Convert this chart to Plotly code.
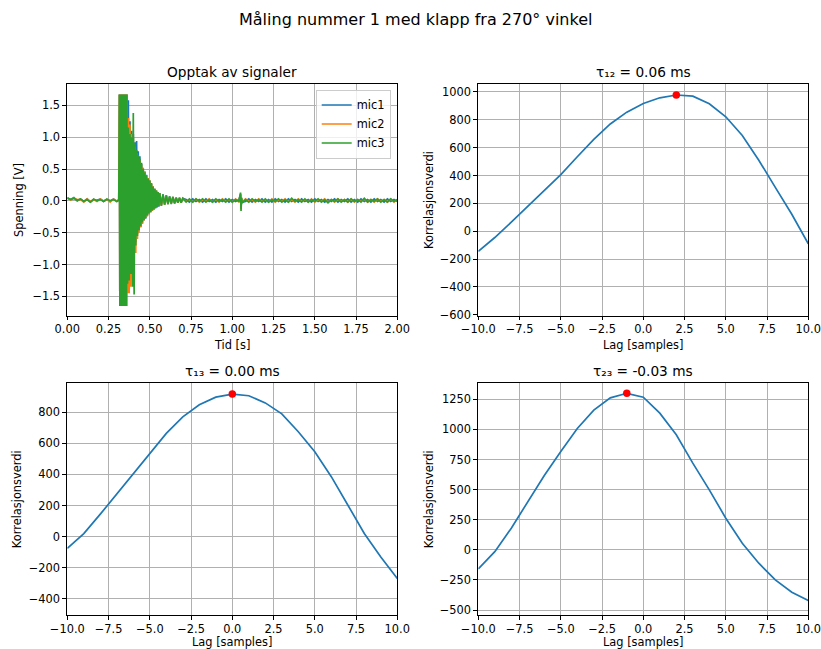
import plotly.graph_objects as go

# ---------------- Signal recording (time [s], voltage [V]) ----------------
t_pre = [0.00, 0.02, 0.04, 0.06, 0.08, 0.10, 0.12, 0.14, 0.16, 0.18, 0.20, 0.22,
         0.24, 0.26, 0.28, 0.30, 0.312]
t_burst = [0.316, 0.3185, 0.321, 0.3235, 0.326, 0.3285, 0.331, 0.3335, 0.336, 0.3385,
           0.341, 0.3435, 0.346, 0.3485, 0.351, 0.3535, 0.356, 0.3585, 0.361]
t_decay = [0.365, 0.370, 0.375, 0.380, 0.385, 0.390, 0.395, 0.400, 0.405, 0.410,
           0.415, 0.420, 0.425, 0.430, 0.435, 0.440, 0.445, 0.450, 0.455, 0.460,
           0.465, 0.470, 0.475, 0.480, 0.485, 0.490, 0.495, 0.500, 0.505, 0.510,
           0.515, 0.520, 0.525, 0.530, 0.535, 0.540, 0.545, 0.550, 0.555, 0.560]
t_tail = [0.57, 0.58, 0.59, 0.60, 0.61, 0.62, 0.63, 0.64, 0.65, 0.66, 0.67, 0.68, 0.69, 0.70]
t_post = [0.72, 0.74, 0.76, 0.78, 0.80, 0.82, 0.84, 0.86, 0.88, 0.90, 0.92, 0.94, 0.96,
          0.98, 1.00, 1.02, 1.04,
          1.050, 1.053, 1.056, 1.060,
          1.08, 1.10, 1.12, 1.14, 1.16, 1.18, 1.20, 1.22, 1.24, 1.26,
          1.28, 1.30, 1.32, 1.34, 1.36, 1.38, 1.40, 1.42, 1.44, 1.46,
          1.48, 1.50, 1.52, 1.54, 1.56, 1.58, 1.60, 1.62, 1.64, 1.66,
          1.68, 1.70, 1.72, 1.74, 1.76, 1.78, 1.80, 1.82, 1.84, 1.86,
          1.88, 1.90, 1.92, 1.94, 1.96, 1.98, 2.00]

mic1_pre = [0.04, 0.02, 0.05, 0.00, 0.03, -0.01, 0.03, -0.02, 0.02, 0.01, 0.03, -0.01,
            0.02, 0.00, 0.03, -0.01, 0.02]
mic1_burst = [1.67, -1.65, 1.67, -1.65, 1.67, -1.65, 1.67, -1.65, 1.67, -1.65,
              1.67, -1.65, 1.67, -1.65, 1.67, -1.65, 1.67, -1.65, 1.67]
mic1_decay = [-1.20, 1.58, -1.10, 1.25, -1.05, 1.10, -1.00, 1.05, -0.95, 0.92,
              -0.65, 0.94, -0.52, 0.78, -0.45, 0.70, -0.41, 0.60, -0.36, 0.52,
              -0.31, 0.46, -0.28, 0.41, -0.24, 0.36, -0.21, 0.32, -0.18, 0.28,
              -0.16, 0.23, -0.14, 0.19, -0.12, 0.16, -0.10, 0.14, -0.09, 0.12]
mic1_tail = [-0.08, 0.10, -0.06, 0.09, -0.05, 0.07, -0.05, 0.06, -0.04, 0.05, -0.03, 0.05, -0.03, 0.04]
mic1_post = [0.02, -0.02, 0.03, -0.01, 0.02, -0.02, 0.03, -0.01, 0.02, -0.02, 0.02, -0.01,
             0.03, -0.02, 0.02, -0.01, 0.02,
             0.10, -0.12, 0.04, -0.02,
             -0.01, 0.03, -0.02, 0.02, -0.01, 0.03, -0.02, 0.02, -0.02, 0.03,
             -0.01, 0.02, -0.02, 0.03, -0.01, 0.02, -0.02, 0.03, -0.01, 0.02,
             -0.02, 0.03, -0.01, 0.02, -0.02, 0.02, -0.01, 0.03, -0.02, 0.02,
             -0.01, 0.03, -0.02, 0.02, -0.02, 0.03, -0.01, 0.02, -0.02, 0.03,
             -0.01, 0.02, -0.02, 0.03, -0.01, 0.02, -0.01]

mic2_pre = [0.05, 0.01, 0.04, 0.02, 0.02, -0.02, 0.03, -0.01, 0.02, -0.01, 0.03, 0.00,
            0.02, -0.02, 0.03, 0.00, 0.02]
mic2_burst = [1.67, -1.65, 1.67, -1.65, 1.67, -1.65, 1.67, -1.65, 1.67, -1.65,
              1.67, -1.65, 1.67, -1.65, 1.67, -1.65, 1.67, -1.65, 1.67]
mic2_decay = [-1.45, 1.30, -1.45, 1.20, -1.35, 1.05, -1.10, 1.00, -0.95, 0.85,
              -0.82, 0.75, -0.60, 0.70, -0.50, 0.64, -0.42, 0.57, -0.36, 0.51,
              -0.31, 0.46, -0.27, 0.40, -0.24, 0.36, -0.21, 0.32, -0.18, 0.27,
              -0.16, 0.23, -0.13, 0.19, -0.11, 0.16, -0.10, 0.14, -0.08, 0.12]
mic2_tail = [-0.07, 0.09, -0.06, 0.08, -0.05, 0.06, -0.04, 0.06, -0.03, 0.05, -0.03, 0.04, -0.03, 0.04]
mic2_post = [-0.01, 0.02, -0.02, 0.03, -0.02, 0.02, -0.01, 0.03, -0.02, 0.02, -0.02, 0.03,
             -0.01, 0.02, -0.02, 0.03, -0.02,
             0.11, -0.13, 0.04, -0.02,
             0.03, -0.01, 0.02, -0.02, 0.03, -0.01, 0.02, -0.02, 0.03, -0.02,
             0.02, -0.01, 0.03, -0.02, 0.02, -0.02, 0.03, -0.01, 0.02, -0.02,
             0.03, -0.02, 0.02, -0.01, 0.03, -0.02, 0.02, -0.02, 0.03, -0.01,
             0.02, -0.02, 0.03, -0.02, 0.02, -0.01, 0.03, -0.02, 0.02, -0.02,
             0.03, -0.01, 0.02, -0.02, 0.03, -0.02, 0.02]

mic3_pre = [0.05, 0.02, 0.04, 0.01, 0.03, -0.01, 0.02, -0.02, 0.03, 0.00, 0.02, -0.01,
            0.03, 0.00, 0.02, -0.01, 0.01]
mic3_burst = [1.67, -1.65, 1.67, -1.65, 1.67, -1.65, 1.67, -1.65, 1.67, -1.65,
              1.67, -1.65, 1.67, -1.65, 1.67, -1.65, 1.67, -1.65, 1.67]
mic3_decay = [-1.30, 1.15, -1.25, 1.05, -1.15, 1.00, -1.35, 1.38, -1.47, 0.90,
              -0.70, 0.80, -0.55, 0.72, -0.46, 0.66, -0.40, 0.58, -0.34, 0.50,
              -0.30, 0.45, -0.27, 0.40, -0.23, 0.35, -0.20, 0.32, -0.18, 0.27,
              -0.15, 0.22, -0.13, 0.19, -0.11, 0.16, -0.10, 0.14, -0.08, 0.12]
mic3_tail = [-0.07, 0.10, -0.06, 0.08, -0.05, 0.07, -0.04, 0.06, -0.04, 0.05, -0.03, 0.05, -0.03, 0.04]
mic3_post = [-0.02, 0.03, -0.02, 0.03, -0.01, 0.03, -0.02, 0.02, -0.02, 0.03, -0.01, 0.02,
             -0.02, 0.03, -0.02, 0.02, -0.01,
             0.13, -0.16, 0.05, -0.03,
             0.02, -0.02, 0.03, -0.01, 0.02, -0.02, 0.03, -0.02, 0.02, -0.01,
             0.03, -0.02, 0.02, -0.02, 0.04, -0.01, 0.02, -0.02, 0.03, -0.02,
             0.02, -0.01, 0.03, -0.02, 0.02, -0.03, 0.02, -0.01, 0.03, -0.02,
             0.02, -0.02, 0.03, -0.01, 0.02, -0.02, 0.04, -0.02, 0.02, -0.01,
             0.03, -0.02, 0.02, -0.02, 0.03, -0.01, 0.02]

# ---------------- Cross-correlations ----------------
lags = [-10, -9, -8, -7, -6, -5, -4, -3, -2, -1, 0, 1, 2, 3, 4, 5, 6, 7, 8, 9, 10]
corr12 = [-145, -45, 65, 180, 292, 407, 535, 660, 770, 855, 917, 958, 978, 970, 915,
          822, 688, 510, 315, 122, -90]
corr13 = [-75, 20, 145, 275, 405, 540, 664, 770, 848, 897, 917, 906, 860, 790, 675,
          546, 386, 204, 21, -130, -268]
corr23 = [-158, -15, 180, 405, 618, 817, 1008, 1160, 1262, 1300, 1268, 1135, 955, 720,
          498, 263, 55, -111, -249, -352, -421]

suptitle = "Måling nummer 1 med klapp fra 270° vinkel"
titles = ["Opptak av signaler", "τ₁₂ = 0.06 ms", "τ₁₃ = 0.00 ms", "τ₂₃ = -0.03 ms"]

sig_xticks = [0.0, 0.25, 0.5, 0.75, 1.0, 1.25, 1.5, 1.75, 2.0]
sig_xlabels = ["0.00", "0.25", "0.50", "0.75", "1.00", "1.25", "1.50", "1.75", "2.00"]
sig_yticks = [-1.5, -1.0, -0.5, 0.0, 0.5, 1.0, 1.5]
sig_ylabels = ["−1.5", "−1.0", "−0.5", "0.0", "0.5", "1.0", "1.5"]
lag_ticks = [-10, -7.5, -5, -2.5, 0, 2.5, 5, 7.5, 10]
lag_labels = ["−10.0", "−7.5", "−5.0", "−2.5", "0.0", "2.5", "5.0", "7.5", "10.0"]
c12_ticks = [-600, -400, -200, 0, 200, 400, 600, 800, 1000]
c12_labels = ["−600", "−400", "−200", "0", "200", "400", "600", "800", "1000"]
c13_ticks = [-400, -200, 0, 200, 400, 600, 800]
c13_labels = ["−400", "−200", "0", "200", "400", "600", "800"]
c23_ticks = [-500, -250, 0, 250, 500, 750, 1000, 1250]
c23_labels = ["−500", "−250", "0", "250", "500", "750", "1000", "1250"]

# ---------------- Figure ----------------
W, H = 821, 649
FONT = "DejaVu Sans"
BLUE, ORANGE, GREEN = "#1f77b4", "#ff7f0e", "#2ca02c"


def px(x):
    return x / W


def py(y):
    return 1 - y / H


# axes boxes in pixels: (left, right, top, bottom)
boxes = [(67.3, 397.3, 84.3, 315.5), (478.3, 808.3, 84.3, 315.5),
         (67.3, 397.3, 383.3, 615.0), (478.3, 808.3, 383.3, 615.0)]

fig = go.Figure()

t_all = t_pre + t_burst + t_decay + t_tail + t_post
mics = [("mic1", BLUE, mic1_pre + mic1_burst + mic1_decay + mic1_tail + mic1_post),
        ("mic2", ORANGE, mic2_pre + mic2_burst + mic2_decay + mic2_tail + mic2_post),
        ("mic3", GREEN, mic3_pre + mic3_burst + mic3_decay + mic3_tail + mic3_post)]
for name, col, vals in mics:
    fig.add_trace(go.Scatter(x=t_all, y=vals, mode="lines", name=name,
                             line=dict(color=col, width=1.7, simplify=False),
                             xaxis="x", yaxis="y", showlegend=True))

corrs = [(corr12, "x2", "y2"), (corr13, "x3", "y3"), (corr23, "x4", "y4")]
for vals, xa, ya in corrs:
    fig.add_trace(go.Scatter(x=lags, y=vals, mode="lines",
                             line=dict(color=BLUE, width=1.7),
                             xaxis=xa, yaxis=ya, showlegend=False))
    k = vals.index(max(vals))
    fig.add_trace(go.Scatter(x=[lags[k]], y=[vals[k]], mode="markers",
                             marker=dict(color="red", size=7.5),
                             xaxis=xa, yaxis=ya, showlegend=False))

axis_common = dict(showgrid=True, gridcolor="#b0b0b0", gridwidth=0.8, zeroline=False,
                   showline=True, linecolor="black", linewidth=0.9, mirror=True,
                   ticks="outside", ticklen=4, tickwidth=0.9, tickcolor="black",
                   tickfont=dict(family=FONT, size=11.4, color="black"),
                   tickmode="array", automargin=False)

xranges = [[0, 2.0], [-10, 10], [-10, 10], [-10, 10]]
yranges = [[-1.80, 1.83], [-605, 1055], [-503, 986], [-541, 1383]]
xt = [(sig_xticks, sig_xlabels), (lag_ticks, lag_labels), (lag_ticks, lag_labels),
      (lag_ticks, lag_labels)]
yt = [(sig_yticks, sig_ylabels), (c12_ticks, c12_labels), (c13_ticks, c13_labels),
      (c23_ticks, c23_labels)]

layout = dict(width=W, height=H, margin=dict(l=0, r=0, t=0, b=0, autoexpand=False),
              paper_bgcolor="white", plot_bgcolor="white",
              font=dict(family=FONT, color="black"),
              legend=dict(x=px(390.7), y=py(89.5), xanchor="right", yanchor="top",
                          bgcolor="rgba(255,255,255,0.8)", bordercolor="#cccccc",
                          borderwidth=1, font=dict(family=FONT, size=11.4),
                          tracegroupgap=0, itemwidth=30))
for i, (l, r, t, b) in enumerate(boxes):
    sx = "" if i == 0 else str(i + 1)
    layout["xaxis" + sx] = dict(axis_common, domain=[px(l), px(r)], range=xranges[i],
                                tickvals=xt[i][0], ticktext=xt[i][1],
                                ticklabelstandoff=-1, anchor="y" + sx)
    layout["yaxis" + sx] = dict(axis_common, domain=[py(b), py(t)], range=yranges[i],
                                tickvals=yt[i][0], ticktext=yt[i][1],
                                anchor="x" + sx)
fig.update_layout(**layout)

ann = []
ann.append(dict(text=suptitle, x=px(416), y=py(19), xref="paper", yref="paper",
                showarrow=False, xanchor="center", yanchor="middle",
                font=dict(family=FONT, size=16, color="black")))
for i, (l, r, t, b) in enumerate(boxes):
    ann.append(dict(text=titles[i], x=px((l + r) / 2), y=py(t - 12.5), xref="paper",
                    yref="paper", showarrow=False, xanchor="center", yanchor="middle",
                    font=dict(family=FONT, size=13.7, color="black")))
xlabels = ["Tid [s]", "Lag [samples]", "Lag [samples]", "Lag [samples]"]
ylabels = ["Spenning [V]", "Korrelasjonsverdi", "Korrelasjonsverdi", "Korrelasjonsverdi"]
ylab_x = [19, 429, 17, 429]
xlab_y = [345.0, 345.0, 642.0, 642.0]
for i, (l, r, t, b) in enumerate(boxes):
    ann.append(dict(text=xlabels[i], x=px((l + r) / 2), y=py(xlab_y[i]), xref="paper",
                    yref="paper", showarrow=False, xanchor="center", yanchor="middle",
                    font=dict(family=FONT, size=11.4, color="black")))
    ann.append(dict(text=ylabels[i], x=px(ylab_x[i]), y=py((t + b) / 2), xref="paper",
                    yref="paper", showarrow=False, xanchor="center", yanchor="middle",
                    textangle=-90, font=dict(family=FONT, size=11.4, color="black")))
fig.update_layout(annotations=ann)

fig.write_html("out.html",
               config={"displayModeBar": False},
               post_script="document.body.style.margin='0';"
                           "document.body.style.padding='0';"
                           "document.body.style.overflow='hidden';")
